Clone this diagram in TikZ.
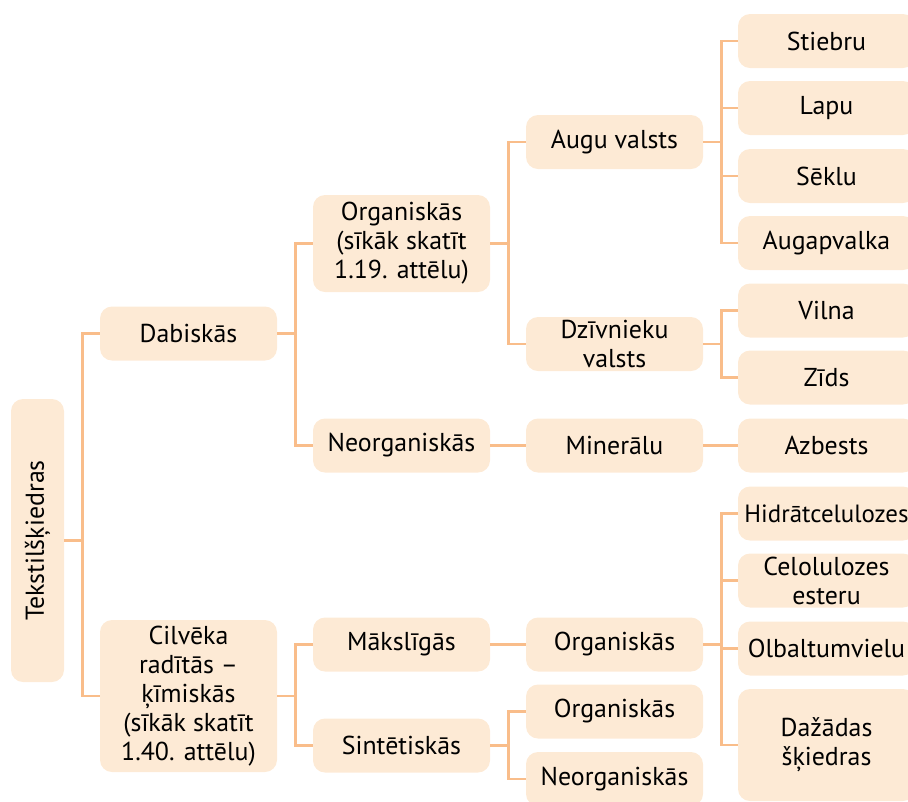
\documentclass[tikz,border=0pt]{standalone}
\usepackage{fontspec}
\setmainfont{PT Sans}

\definecolor{linkorange}{HTML}{F9BD8A}
\definecolor{boxpeach}{HTML}{FDEAD5}

\begin{document}
\begin{tikzpicture}[x=0.75pt, y=-0.75pt,
  box/.style={rounded corners=9pt, fill=boxpeach, minimum width=132.75pt,
    minimum height=40.5pt, inner sep=1pt, align=center,
    font=\fontsize{19.4}{21.75}\selectfont},
  link/.style={draw=linkorange, line width=2.2pt}]

\clip (0,0) rectangle (908,801);

% --- Root ---
\node[box, minimum width=39.75pt, minimum height=212.25pt] (tex) at (37.5,540.5)
  {\rotatebox{90}{Tekstilšķiedras}};

% --- Level 2 ---
\node[box] (dab) at (188.5,333.5) {Dabiskās};
\node[box, minimum height=114pt] (cil) at (188.5,696)
  {Cilvēka\\radītās –\\ķīmiskās\\(sīkāk skatīt\\1.40. attēlu)};

% --- Level 3 ---
\node[box, minimum height=72.75pt] (org) at (401.5,243.5)
  {Organiskās\\(sīkāk skatīt\\1.19. attēlu)};
\node[box] (neo) at (401.5,445.5) {Neorganiskās};
\node[box] (mak) at (401.5,644.5) {Mākslīgās};
\node[box] (sin) at (401.5,745.5) {Sintētiskās};

% --- Level 4 ---
\node[box] (augu) at (614.5,142) {Augu valsts};
\node[box] (dzi) at (614.5,344) {Dzīvnieku\\valsts};
\node[box] (min) at (614.5,445.5) {Minerālu};
\node[box] (makorg) at (614.5,644.5) {Organiskās};
\node[box] (sinorg) at (614.5,711.5) {Organiskās};
\node[box] (sinneo) at (614.5,779) {Neorganiskās};

% --- Level 5 ---
\node[box] (stie) at (826.5,41) {Stiebru};
\node[box] (lapu) at (826.5,108) {Lapu};
\node[box] (sek) at (826.5,176) {Sēklu};
\node[box] (augap) at (826.5,243) {Augapvalka};
\node[box] (viln) at (826.5,310.5) {Vilna};
\node[box] (zids) at (826.5,377.5) {Zīds};
\node[box] (azb) at (826.5,445.5) {Azbests};
\node[box, font=\fontsize{18.7}{21.75}\selectfont] (hidr) at (826.5,513.5) {Hidrātcelulozes};
\node[box] (celo) at (826.5,580.5) {Celolulozes\\esteru};
\node[box] (olb) at (826.5,648.5) {Olbaltumvielu};
\node[box, minimum height=84pt] (daz) at (826.5,745) {Dažādas\\šķiedras};

% --- Connectors ---
\foreach \a/\b in {tex/dab, tex/cil,
                   dab/org, dab/neo, cil/mak, cil/sin,
                   org/augu, org/dzi, neo/min, mak/makorg, sin/sinorg, sin/sinneo,
                   augu/stie, augu/lapu, augu/sek, augu/augap,
                   dzi/viln, dzi/zids, min/azb,
                   makorg/hidr, makorg/celo, makorg/olb, makorg/daz}
  \draw[link] (\a.east) -- ++(18,0) |- (\b.west);

\end{tikzpicture}
\end{document}
